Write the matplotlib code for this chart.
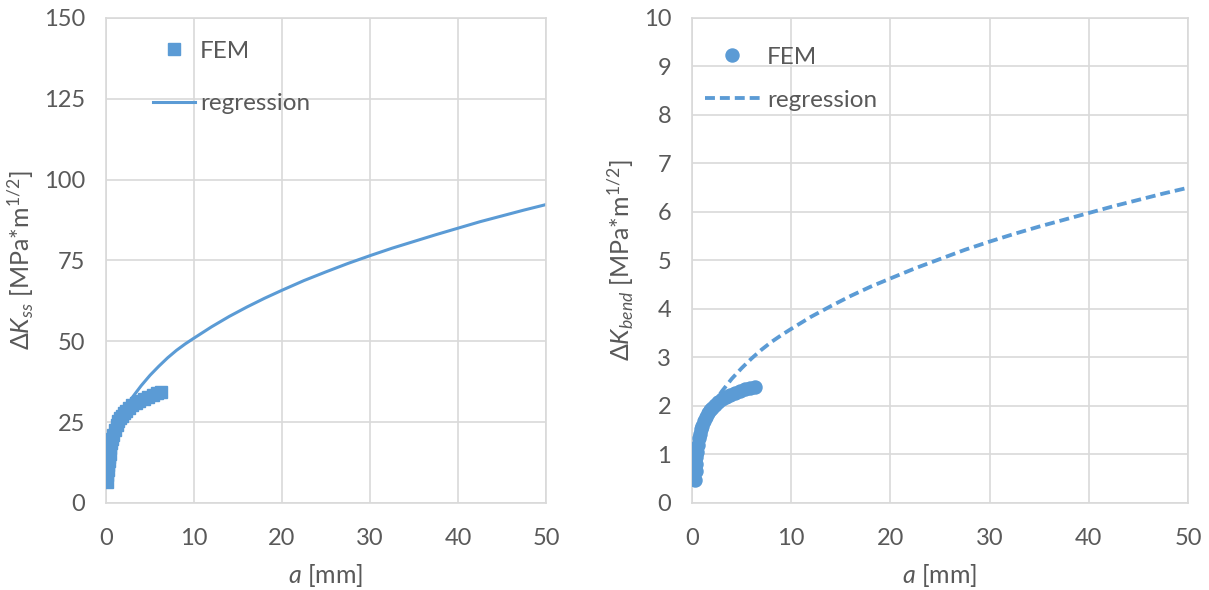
import numpy as np
import matplotlib
matplotlib.use("Agg")
import matplotlib.pyplot as plt

# left panel: shear stress intensity
a_fem_ss = [0.1, 0.15, 0.2, 0.25, 0.3, 0.35, 0.4, 0.5, 0.6, 0.7, 0.8, 1.0, 1.2, 1.4,
            1.6, 1.8, 2.0, 2.3, 2.6, 3.0, 3.4, 3.8, 4.3, 4.8, 5.3, 5.8, 6.3]
k_fem_ss = [6.6, 8.5, 10.2, 11.7, 13.0, 14.2, 15.3, 17.0, 18.5, 19.8, 20.9, 22.7, 24.1, 25.2,
            26.2, 27.0, 27.7, 28.6, 29.4, 30.3, 31.0, 31.6, 32.3, 32.9, 33.4, 33.9, 34.3]
a_reg = [2, 3, 4, 5, 6, 7, 8, 9, 10, 12, 14, 16, 18, 20, 22.5, 25, 27.5, 30,
         32.5, 35, 37.5, 40, 42.5, 45, 47.5, 50]
k_reg_ss = [28.2, 32.7, 36.3, 39.5, 42.3, 44.9, 47.2, 49.2, 51.0, 54.5, 57.7, 60.6, 63.3,
            65.8, 68.8, 71.5, 74.1, 76.5, 78.8, 80.9, 83.0, 85.0, 87.0, 88.8, 90.6, 92.3]

# right panel: bending
a_fem_b = [0.3, 0.35, 0.4, 0.45, 0.5, 0.6, 0.7, 0.8, 0.9, 1.0, 1.2, 1.4, 1.6, 1.8, 2.0,
           2.3, 2.6, 3.0, 3.4, 3.8, 4.3, 4.8, 5.3, 5.8, 6.3]
k_fem_b = [0.47, 0.65, 0.8, 0.95, 1.05, 1.2, 1.33, 1.43, 1.52, 1.59, 1.7, 1.78, 1.85, 1.91,
           1.96, 2.02, 2.08, 2.14, 2.19, 2.23, 2.27, 2.31, 2.34, 2.37, 2.40]
k_reg_b = [1.99, 2.30, 2.56, 2.78, 2.98, 3.16, 3.32, 3.46, 3.59, 3.84, 4.06, 4.27, 4.46,
           4.63, 4.84, 5.03, 5.22, 5.39, 5.55, 5.70, 5.84, 5.98, 6.12, 6.25, 6.38, 6.50]

blue = "#5B9BD5"
gray = "#595959"
grid = "#D9D9D9"

plt.rcParams["font.family"] = ["Lato", "DejaVu Sans"]
plt.rcParams["mathtext.fontset"] = "custom"
plt.rcParams["mathtext.rm"] = "Lato"
plt.rcParams["mathtext.it"] = "Lato:italic"

fig = plt.figure(figsize=(12.09, 5.9), dpi=100)
ax1 = fig.add_axes([0.0877, 0.1475, 0.364, 0.822])
ax2 = fig.add_axes([0.5724, 0.1475, 0.4103, 0.822])

def style(ax, ymax, ystep):
    ax.set_xlim(0, 50)
    ax.set_ylim(0, ymax)
    ax.set_xticks(range(0, 51, 10))
    ax.set_yticks(np.arange(0, ymax + ystep / 2, ystep))
    ax.grid(True, color=grid, lw=1.2)
    ax.set_axisbelow(True)
    for s in ax.spines.values():
        s.set_color(grid)
        s.set_linewidth(1.2)
    ax.tick_params(length=0, colors=gray, labelsize=17)
    ax.tick_params(axis="y", pad=15)
    ax.tick_params(axis="x", pad=18)
    ax.set_xlabel(r"$\mathit{a}$ [mm]", color=gray, fontsize=18)
    ax.xaxis.set_label_coords(0.5, -0.122)

# left
ax1.plot(a_reg, k_reg_ss, color=blue, lw=2.2, label="regression", zorder=2)
ax1.plot(a_fem_ss, k_fem_ss, ls="none", marker="s", ms=8.6, color=blue, label="FEM", zorder=3)
style(ax1, 150, 25)
ax1.set_ylabel(r"$\mathit{ΔK_{ss}}$ [MPa*m$^{1/2}$]", color=gray, fontsize=18)
ax1.yaxis.set_label_coords(-0.16, 0.5)
h, l = ax1.get_legend_handles_labels()
ax1.legend(h[::-1], l[::-1], loc="upper left", bbox_to_anchor=(0.1066, 0.953), frameon=False,
           fontsize=17.5, labelcolor=gray, handlelength=1.73, labelspacing=1.3,
           handletextpad=0.2, borderpad=0, borderaxespad=0)

# right
ax2.plot(a_reg, k_reg_b, color=blue, lw=2.75, ls=(0, (2.6, 1.3)), label="regression", zorder=2)
ax2.plot(a_fem_b, k_fem_b, ls="none", marker="o", ms=9.4, color=blue, label="FEM", zorder=3)
style(ax2, 10, 1)
ax2.set_ylabel(r"$\mathit{ΔK_{bend}}$ [MPa*m$^{1/2}$]", color=gray, fontsize=18)
ax2.yaxis.set_label_coords(-0.113, 0.5)
h, l = ax2.get_legend_handles_labels()
ax2.legend(h[::-1], l[::-1], loc="upper left", bbox_to_anchor=(0.026, 0.941), frameon=False,
           fontsize=17.5, labelcolor=gray, handlelength=2.26, labelspacing=0.92,
           handletextpad=0.29, borderpad=0, borderaxespad=0)

fig.savefig("out.png", dpi=100)
